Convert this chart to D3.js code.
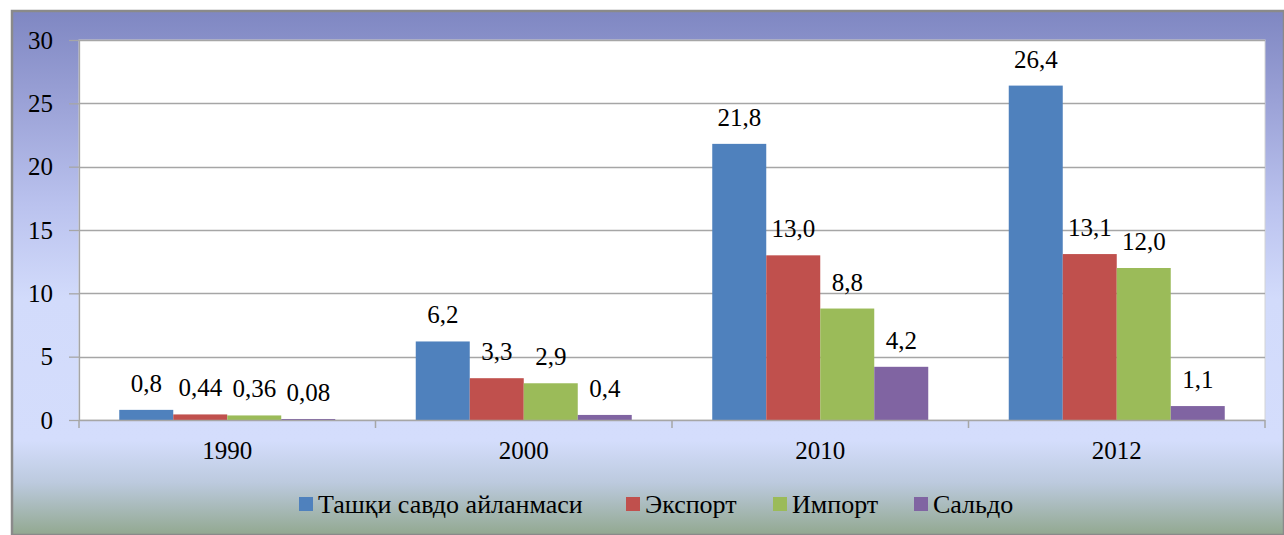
<!DOCTYPE html>
<html>
<head>
<meta charset="utf-8">
<script src="https://cdn.jsdelivr.net/npm/d3@7/dist/d3.min.js"></script>
<style>
html,body{margin:0;padding:0;background:#fff;}
svg{display:block;}
</style>
</head>
<body>
<svg id="chart" width="1284" height="535"></svg>
<script>
const categories = ["1990", "2000", "2010", "2012"];
const seriesNames = ["Ташқи савдо айланмаси", "Экспорт", "Импорт", "Сальдо"];
const seriesColors = ["#4f81bd", "#c0504d", "#9bbb59", "#8064a2"];
const turnover = [0.8, 6.2, 21.8, 26.4];
const exportVals = [0.44, 3.3, 13.0, 13.1];
const importVals = [0.36, 2.9, 8.8, 12.0];
const saldo = [0.08, 0.4, 4.2, 1.1];
const labelTurnover = ["0,8", "6,2", "21,8", "26,4"];
const labelExport = ["0,44", "3,3", "13,0", "13,1"];
const labelImport = ["0,36", "2,9", "8,8", "12,0"];
const labelSaldo = ["0,08", "0,4", "4,2", "1,1"];
const yTicks = [0, 5, 10, 15, 20, 25, 30];

(function () {
const seriesValues = [turnover, exportVals, importVals, saldo];
const seriesLabels = [labelTurnover, labelExport, labelImport, labelSaldo];
const FONT = "Liberation Serif, DejaVu Serif, serif";
const FS = 25;

const svg = d3.select("#chart");
svg.style("font-family", FONT);
const W = 1284, H = 535;
const defs = svg.append("defs");
const grad = defs.append("linearGradient").attr("id", "bg").attr("x1", 0).attr("y1", 0).attr("x2", 0).attr("y2", 1);
[[0, "#7f87c2"], [0.17, "#9aa1d6"], [0.37, "#bac2ee"], [0.55, "#d2dbfb"], [0.82, "#d4ddfc"], [0.9, "#bccade"], [1, "#92a890"]]
  .forEach(([o, c]) => grad.append("stop").attr("offset", o).attr("stop-color", c));

// outer frame
svg.append("rect").attr("x", 12).attr("y", 11).attr("width", W - 12).attr("height", H - 11)
  .attr("fill", "url(#bg)").attr("stroke", "#8a8a8a").attr("stroke-width", 2.5);

const pL = 79, pR = 1265, pT = 40, pB = 420;
const x0 = d3.scaleBand().domain(categories).range([pL, pR]).paddingInner(0).paddingOuter(0);
const inner = 216;
const x1 = d3.scaleBand().domain(d3.range(4)).range([0, inner]);
const y = d3.scaleLinear().domain([0, 30]).range([pB, pT]);

// plot area
svg.append("rect").attr("x", pL).attr("y", pT).attr("width", pR - pL).attr("height", pB - pT)
  .attr("fill", "#ffffff").attr("stroke", "#d4d4d4").attr("stroke-width", 1);

// gridlines
svg.append("g").selectAll("line").data(yTicks.filter(d => d > 0)).join("line")
  .attr("x1", pL).attr("x2", pR)
  .attr("y1", d => Math.round(y(d)) + 0.5).attr("y2", d => Math.round(y(d)) + 0.5)
  .attr("stroke", "#a6a6a6").attr("stroke-width", 1.3);

// bars
const catG = svg.append("g").selectAll("g").data(categories).join("g")
  .attr("transform", (d) => `translate(${x0(d) + (x0.bandwidth() - inner) / 2},0)`);
catG.each(function(cat, ci) {
  const g = d3.select(this);
  for (let s = 0; s < 4; s++) {
    const v = seriesValues[s][ci];
    g.append("rect").attr("x", x1(s)).attr("width", x1.bandwidth())
      .attr("y", y(v)).attr("height", pB - y(v)).attr("fill", seriesColors[s]);
    g.append("text").attr("x", x1(s) + x1.bandwidth() / 2).attr("y", y(v) - 18)
      .attr("text-anchor", "middle").style("font-family", FONT)
      .style("font-size", FS + "px").attr("fill", "#000").text(seriesLabels[s][ci]);
  }
});

// y axis
const yAxis = d3.axisLeft(y).tickValues(yTicks).tickSize(10).tickPadding(16).tickFormat(d3.format("d"));
const yg = svg.append("g").attr("transform", `translate(${pL},0)`).call(yAxis);
yg.attr("font-family", null).attr("font-size", null);
yg.select(".domain").attr("stroke", "#a6a6a6").attr("stroke-width", 1.3).attr("d", `M0.5,${pT}V${pB}`);
yg.selectAll(".tick line").attr("stroke", "#a6a6a6").attr("stroke-width", 1.3);
yg.selectAll(".tick text").style("font-family", FONT).style("font-size", FS + "px").attr("fill", "#000");

// x axis
const xg = svg.append("g").attr("transform", `translate(0,${pB})`);
xg.append("line").attr("x1", pL).attr("x2", pR).attr("y1", 0.5).attr("y2", 0.5).attr("stroke", "#a6a6a6").attr("stroke-width", 1.5);
const bounds = categories.map(c => x0(c)).concat([pR]);
xg.selectAll("line.t").data(bounds).join("line").attr("class", "t")
  .attr("x1", d => d).attr("x2", d => d).attr("y1", 0).attr("y2", 8)
  .attr("stroke", "#a6a6a6").attr("stroke-width", 1.5);
xg.selectAll("text").data(categories).join("text")
  .attr("x", d => x0(d) + x0.bandwidth() / 2).attr("y", 39)
  .attr("text-anchor", "middle").style("font-family", FONT)
  .style("font-size", FS + "px").attr("fill", "#000").text(d => d);

// legend
const legendX = [299, 626, 773, 914];
const lg = svg.append("g");
seriesNames.forEach((n, i) => {
  lg.append("rect").attr("x", legendX[i]).attr("y", 497).attr("width", 14).attr("height", 14).attr("fill", seriesColors[i]);
  lg.append("text").attr("x", legendX[i] + 19).attr("y", 513).style("font-family", FONT)
    .style("font-size", "26px").attr("fill", "#000").text(n);
});
})();
</script>
</body>
</html>
